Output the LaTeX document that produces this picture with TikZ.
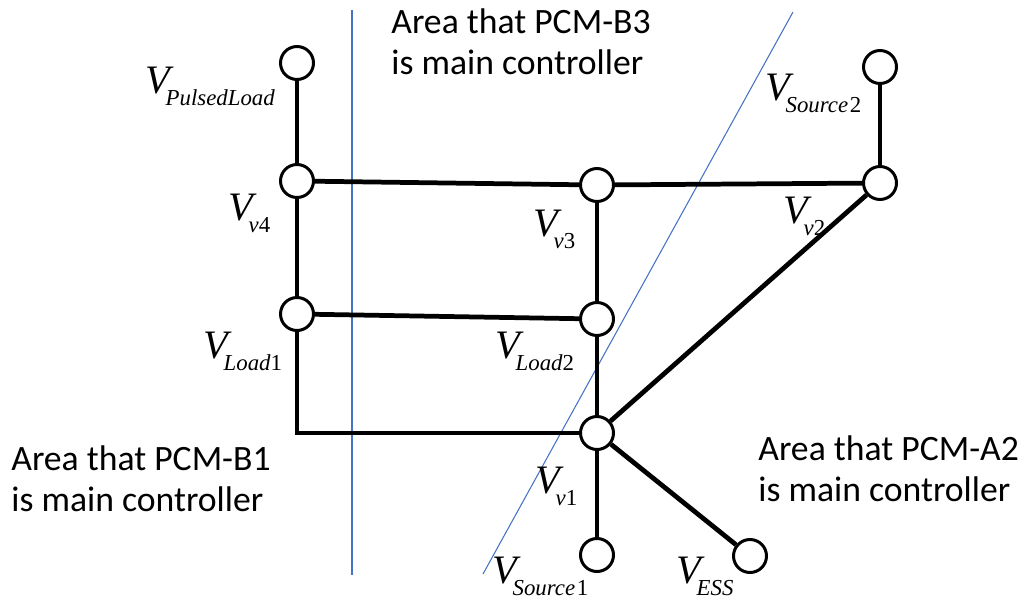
\documentclass[tikz,border=0pt]{standalone}
\usepackage{fontspec}
\setmainfont{Liberation Serif}
\newfontfamily\areafont{Carlito}
\usepackage{tikz}
\usetikzlibrary{positioning}

\definecolor{divblue}{RGB}{68,114,196}

% bus voltage label: italic V with a lowered subscript
\newcommand{\vname}[2]{{\fontsize{23}{23}\selectfont\itshape V}\kern-2.5pt\raisebox{-7pt}{\fontsize{13}{13}\selectfont\itshape #1\upshape #2}}

\begin{document}
\begin{tikzpicture}[
  x=0.02cm, y=-0.02cm,
  bus/.style={circle, draw=black, fill=white, line width=1.7pt, minimum size=0.66cm, inner sep=0pt},
  busline/.style={line width=2.7pt, draw=black},
  vlabel/.style={anchor=base west, inner sep=0pt},
  areatext/.style={anchor=base west, inner sep=0pt, align=left, font=\areafont\fontsize{20.3}{23}\selectfont},
  divider/.style={line width=0.6pt, draw=divblue},
]
  \useasboundingbox (0,0) rectangle (1023,598);

  % Area dividers
  \coordinate (dv1top) at (352,10);
  \coordinate (dv1bot) at (352,575);
  \coordinate (dv2top) at (793,12);
  \coordinate (dv2bot) at (483,574);
  \draw[divider] (dv1top) -- (dv1bot);
  \draw[divider] (dv2top) -- (dv2bot);

  % Buses
  \node[bus] (pulsed) at (297,63) {};
  \node[bus] (v4) at (297,181) {};
  \node[bus] (load1) at (297,314) {};
  \node[bus] (v3) at (597,185) {};
  \node[bus] (load2) at (597,319) {};
  \node[bus] (v1) at (597,433) {};
  \node[bus] (src1) at (597,555) {};
  \node[bus] (ess) at (750,556) {};
  \node[bus] (v2) at (880,183) {};
  \node[bus] (src2) at (880,67) {};

  % Lines
  \draw[busline] (pulsed) -- (v4);
  \draw[busline] (v4) -- (load1);
  \draw[busline] (load1) |- (v1);
  \draw[busline] (v4) -- (v3);
  \draw[busline] (v3) -- (v2);
  \draw[busline] (load1) -- (load2);
  \draw[busline] (v3) -- (load2);
  \draw[busline] (load2) -- (v1);
  \draw[busline] (v1) -- (src1);
  \draw[busline] (v1) -- (ess);
  \draw[busline] (v1) -- (v2);
  \draw[busline] (v2) -- (src2);

  % Voltage labels
  \node[vlabel] (lpulsed) at (145,93) {\vname{PulsedLoad}{}};
  \node[vlabel] (lv4) at (228,220) {\vname{v}{4}};
  \node[vlabel] (lload1) at (203,358) {\vname{Load}{1}};
  \node[vlabel] (lv3) at (533,236) {\vname{v}{3}};
  \node[vlabel] (lload2) at (495,358) {\vname{Load}{2}};
  \node[vlabel] (lv1) at (535,493) {\vname{v}{1}};
  \node[vlabel] (lsrc1) at (492,583) {\vname{Source}{\kern1pt 1}};
  \node[vlabel] (less) at (676,583) {\vname{ESS}{}};
  \node[vlabel] (lsrc2) at (765,100) {\vname{Source}{\kern1pt 2}};
  \node[vlabel] (lv2) at (783,223) {\vname{v}{2}};

  % Area texts
  \node[areatext] (areab3) at (391,74) {Area that PCM-B3\\is main controller};
  \node[areatext] (areab1) at (11,511) {Area that PCM-B1\\is main controller};
  \node[areatext] (areaa2) at (758,501) {Area that PCM-A2\\is main controller};
\end{tikzpicture}
\end{document}
